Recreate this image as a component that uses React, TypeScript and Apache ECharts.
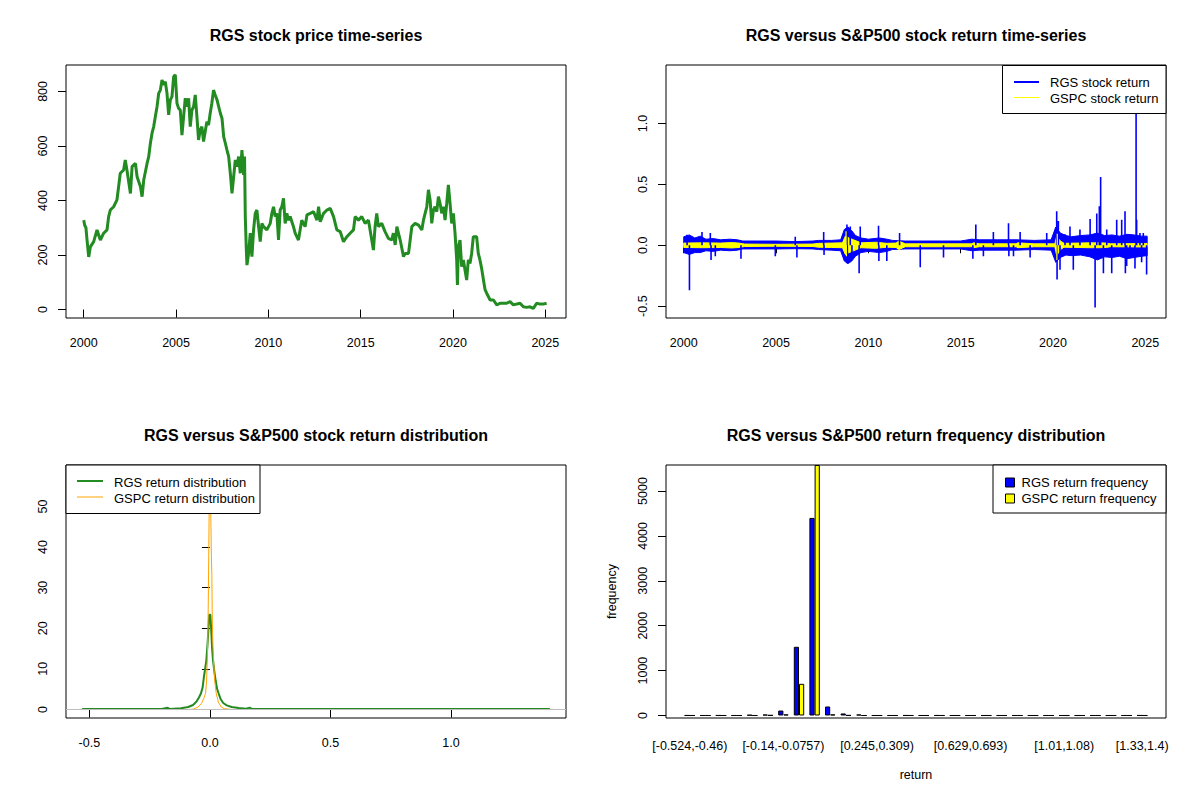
import { useEffect, useRef } from 'react';
import * as echarts from 'echarts';

const FONT = '"Liberation Sans", Arial, sans-serif';

// ---- panel 1: RGS price ----
const priceYears = [
  2000.0, 2000.05, 2000.12, 2000.18, 2000.27, 2000.36, 2000.54, 2000.72, 2000.9, 2001.08,
  2001.26, 2001.35, 2001.44, 2001.62, 2001.8, 2001.98, 2002.16, 2002.25, 2002.34, 2002.53,
  2002.62, 2002.8, 2002.89, 2003.07, 2003.16, 2003.25, 2003.43, 2003.52, 2003.61, 2003.7,
  2003.79, 2003.88, 2003.97, 2004.06, 2004.15, 2004.24, 2004.33, 2004.42, 2004.51, 2004.6,
  2004.69, 2004.78, 2004.87, 2004.96, 2005.05, 2005.14, 2005.23, 2005.32, 2005.41, 2005.5,
  2005.59, 2005.68, 2005.77, 2005.86, 2005.95, 2006.04, 2006.13, 2006.22, 2006.31, 2006.4,
  2006.49, 2006.58, 2006.67, 2006.76, 2006.85, 2006.94, 2007.03, 2007.12, 2007.22, 2007.31,
  2007.4, 2007.49, 2007.58, 2007.67, 2007.76, 2007.85, 2007.94, 2008.03, 2008.12, 2008.21,
  2008.3, 2008.39, 2008.48, 2008.57, 2008.66, 2008.71, 2008.75, 2008.8, 2008.84, 2008.93,
  2009.02, 2009.11, 2009.2, 2009.29, 2009.38, 2009.47, 2009.56, 2009.65, 2009.74, 2009.92,
  2010.1, 2010.19, 2010.28, 2010.37, 2010.46, 2010.55, 2010.64, 2010.73, 2010.82, 2010.91,
  2011.0, 2011.09, 2011.18, 2011.36, 2011.45, 2011.63, 2011.72, 2011.81, 2011.99, 2012.09,
  2012.27, 2012.45, 2012.63, 2012.72, 2012.81, 2012.99, 2013.17, 2013.35, 2013.53, 2013.71,
  2013.89, 2014.07, 2014.25, 2014.43, 2014.61, 2014.7, 2014.88, 2015.06, 2015.24, 2015.42,
  2015.6, 2015.69, 2015.78, 2015.87, 2015.96, 2016.14, 2016.32, 2016.5, 2016.68, 2016.77,
  2016.87, 2016.96, 2017.14, 2017.32, 2017.41, 2017.59, 2017.68, 2017.77, 2017.95, 2018.13,
  2018.31, 2018.4, 2018.49, 2018.58, 2018.67, 2018.76, 2018.85, 2018.94, 2019.03, 2019.12,
  2019.21, 2019.3, 2019.39, 2019.48, 2019.57, 2019.66, 2019.75, 2019.84, 2019.93, 2020.02,
  2020.11, 2020.2, 2020.24, 2020.29, 2020.38, 2020.47, 2020.56, 2020.65, 2020.74, 2020.83,
  2020.92, 2021.01, 2021.1, 2021.19, 2021.28, 2021.37, 2021.46, 2021.55, 2021.65, 2021.74,
  2021.83, 2021.92, 2022.01, 2022.19, 2022.37, 2022.55, 2022.91, 2023.09, 2023.27, 2023.63,
  2023.81, 2023.99, 2024.17, 2024.35, 2024.53, 2024.71, 2024.89, 2025.07,
];
const priceValues = [
  328, 310, 300, 255, 193, 230, 249, 292, 255, 280,
  292, 341, 365, 377, 402, 500, 512, 549, 512, 426,
  524, 536, 487, 451, 414, 475, 536, 561, 610, 647,
  671, 708, 744, 793, 805, 842, 824, 836, 793, 714,
  769, 781, 854, 861, 757, 738, 732, 640, 708, 775,
  744, 775, 671, 732, 744, 787, 708, 622, 659, 671,
  616, 653, 689, 677, 720, 757, 805, 787, 769, 744,
  720, 701, 634, 610, 585, 561, 500, 426, 487, 549,
  524, 561, 500, 585, 494, 561, 341, 231, 163, 206,
  280, 194, 292, 353, 365, 304, 249, 316, 304, 292,
  316, 353, 377, 341, 353, 255, 365, 377, 408, 316,
  353, 328, 341, 304, 280, 255, 292, 328, 304, 347,
  353, 359, 328, 377, 322, 353, 365, 371, 341, 292,
  286, 249, 267, 280, 292, 341, 328, 341, 316, 328,
  255, 218, 304, 353, 304, 316, 286, 261, 255, 280,
  237, 304, 255, 194, 206, 206, 255, 304, 316, 310,
  292, 328, 353, 377, 439, 402, 316, 365, 377, 359,
  414, 389, 353, 377, 328, 389, 457, 389, 316, 353,
  280, 182, 90, 231, 255, 157, 182, 145, 108, 182,
  169, 206, 267, 267, 267, 206, 182, 151, 108, 72,
  59, 47, 35, 35, 17, 23, 23, 29, 17, 23,
  10, 8, 10, 4, 23, 20, 20, 23,
];
const yearTicks = [2000, 2005, 2010, 2015, 2020, 2025];
const priceTicks = [0, 200, 400, 600, 800];

// ---- panel 2: daily returns (dense band envelope + isolated spikes) ----
const rgsBandYears = [
  2000.0, 2000.3, 2000.6, 2000.9, 2001.2, 2001.6, 2002.0, 2002.5, 2002.9, 2003.2,
  2004.0, 2005.0, 2006.0, 2007.0, 2007.3, 2008.0, 2008.5, 2008.7, 2008.9, 2009.1,
  2009.3, 2009.6, 2010.0, 2010.6, 2011.0, 2011.3, 2012.0, 2013.0, 2014.0, 2015.0,
  2015.6, 2016.0, 2017.0, 2018.0, 2019.0, 2019.9, 2020.15, 2020.4, 2020.7, 2021.0,
  2021.5, 2022.0, 2022.4, 2022.8, 2023.2, 2023.6, 2024.0, 2024.4, 2024.8, 2025.1,
];
const rgsBandTop = [
  0.07, 0.085, 0.06, 0.075, 0.05, 0.055, 0.045, 0.05, 0.045, 0.035,
  0.035, 0.035, 0.03, 0.035, 0.04, 0.04, 0.045, 0.13, 0.15, 0.12,
  0.08, 0.06, 0.05, 0.06, 0.05, 0.04, 0.035, 0.035, 0.035, 0.035,
  0.05, 0.045, 0.045, 0.045, 0.04, 0.045, 0.15, 0.1, 0.08, 0.07,
  0.08, 0.085, 0.1, 0.08, 0.085, 0.075, 0.09, 0.085, 0.075, 0.075,
];
const rgsBandBottom = [
  -0.06, -0.075, -0.06, -0.06, -0.045, -0.05, -0.04, -0.045, -0.04, -0.03,
  -0.03, -0.03, -0.028, -0.03, -0.035, -0.04, -0.045, -0.13, -0.15, -0.13,
  -0.09, -0.06, -0.05, -0.06, -0.05, -0.035, -0.03, -0.03, -0.03, -0.03,
  -0.045, -0.04, -0.04, -0.04, -0.035, -0.04, -0.14, -0.1, -0.08, -0.085,
  -0.08, -0.095, -0.12, -0.095, -0.1, -0.09, -0.11, -0.1, -0.09, -0.085,
];
const rgsSpikeYears = [
  2000.18, 2000.31, 2000.99, 2001.44, 2001.48, 2001.71, 2003.1, 2004.96, 2006.04, 2006.13,
  2007.58, 2007.6, 2008.84, 2008.86, 2009.02, 2009.11, 2009.5, 2009.56, 2010.55, 2010.57,
  2011.0, 2011.69, 2012.81, 2014.07, 2015.66, 2015.82, 2016.23, 2016.77, 2017.59, 2017.61,
  2017.86, 2018.22, 2018.76, 2019.66, 2020.2, 2020.22, 2020.29, 2020.38, 2020.65, 2020.92,
  2021.1, 2021.46, 2022.01, 2022.28, 2022.37, 2022.51, 2022.58, 2022.73, 2022.91, 2023.18,
  2023.45, 2023.72, 2023.9, 2023.92, 2023.99, 2024.17, 2024.44, 2024.5, 2024.53, 2024.71,
  2024.8, 2024.89, 2025.07,
];
const rgsSpikeValues = [
  0.087, -0.37, 0.11, 0.1, -0.12, -0.09, -0.11, -0.09, 0.07, -0.1,
  0.11, -0.08, 0.17, -0.15, 0.155, -0.11, -0.23, 0.155, 0.16, -0.13,
  -0.13, 0.1, -0.18, -0.1, -0.11, 0.17, -0.09, 0.11, 0.18, -0.09,
  -0.09, 0.11, -0.1, 0.1, 0.28, -0.28, 0.2, -0.2, 0.09, 0.155,
  -0.2, 0.13, 0.215, -0.51, 0.26, 0.32, 0.56, -0.23, 0.13, -0.23,
  0.21, 0.21, 0.28, -0.23, -0.17, -0.09, -0.19, 1.4, 0.21, 0.1,
  -0.14, 0.1, -0.24,
];
const gspcBandYears = [
  2000.0, 2001.0, 2002.0, 2002.6, 2003.0, 2003.3, 2005.0, 2007.0, 2007.3, 2008.0,
  2008.6, 2008.75, 2008.95, 2009.2, 2009.6, 2010.4, 2011.0, 2011.5, 2011.65, 2012.0,
  2015.6, 2015.7, 2016.0, 2018.0, 2018.1, 2019.0, 2020.1, 2020.2, 2020.4, 2020.6,
  2022.0, 2022.5, 2022.9, 2023.1, 2025.1,
];
const gspcBandTop = [
  0.018, 0.02, 0.018, 0.022, 0.018, 0.01, 0.008, 0.01, 0.016, 0.018,
  0.02, 0.075, 0.06, 0.045, 0.02, 0.025, 0.016, 0.018, 0.035, 0.012,
  0.012, 0.02, 0.012, 0.012, 0.02, 0.012, 0.012, 0.075, 0.035, 0.016,
  0.02, 0.02, 0.018, 0.012, 0.014,
];
const gspcBandBottom = [
  -0.018, -0.02, -0.018, -0.022, -0.018, -0.01, -0.008, -0.01, -0.016, -0.018,
  -0.02, -0.075, -0.06, -0.045, -0.02, -0.025, -0.016, -0.018, -0.035, -0.012,
  -0.012, -0.02, -0.012, -0.012, -0.02, -0.012, -0.012, -0.085, -0.035, -0.016,
  -0.02, -0.02, -0.018, -0.012, -0.014,
];
const gspcSpikeYears = [2008.79, 2008.81, 2020.21, 2020.23];
const gspcSpikeValues = [0.116, -0.09, -0.12, 0.094];
const returnTicks = [-0.5, 0, 0.5, 1.0];

// ---- panel 3: density ----
const rgsDensX = [
  -0.53, -0.2, -0.175, -0.165, -0.12, -0.09, -0.07, -0.055, -0.045, -0.037,
  -0.03, -0.025, -0.02, -0.015, -0.01, -0.006, -0.003, 0.002, 0.005, 0.009,
  0.013, 0.018, 0.024, 0.03, 0.037, 0.045, 0.055, 0.07, 0.09, 0.12,
  0.15, 0.165, 0.175, 1.41,
];
const rgsDensY = [
  0.1, 0.1, 0.4, 0.1, 0.3, 0.6, 1.1, 2.0, 3.0, 4.0,
  5.5, 8.0, 10, 12, 16, 20, 23.3, 23.3, 20, 15,
  12, 9.5, 7.0, 5.0, 3.8, 2.5, 1.6, 1.0, 0.6, 0.35,
  0.2, 0.45, 0.1, 0.1,
];
const gspcDensX = [
  -0.098, -0.07, -0.049, -0.035, -0.025, -0.018, -0.014, -0.011, -0.0085, -0.007,
  -0.005, -0.003, 0, 0.002, 0.004, 0.006, 0.008, 0.0095, 0.011, 0.015,
  0.02, 0.026, 0.035, 0.047, 0.06, 0.089,
];
const gspcDensY = [
  0, 0.05, 0.6, 1.5, 2.8, 4.0, 7, 12, 18.8, 25.3,
  38, 50, 58, 55, 46, 38, 33, 24, 18.8, 12,
  7, 4, 1.8, 0.6, 0.2, 0,
];
const densTicks = [0, 10, 20, 30, 40, 50];

// ---- panel 4: frequency histogram ----
const binLabels = [
  '[-0.524,-0.46)', '[-0.46,-0.396)', '[-0.396,-0.332)', '[-0.332,-0.268)', '[-0.268,-0.204)',
  '[-0.204,-0.14)', '[-0.14,-0.0757)', '[-0.0757,-0.0116)', '[-0.0116,0.0525)', '[0.0525,0.117)',
  '[0.117,0.181)', '[0.181,0.245)', '[0.245,0.309)', '[0.309,0.373)', '[0.373,0.437)',
  '[0.437,0.501)', '[0.501,0.565)', '[0.565,0.629)', '[0.629,0.693)', '[0.693,0.757)',
  '[0.757,0.821)', '[0.821,0.885)', '[0.885,0.95)', '[0.95,1.01)', '[1.01,1.08)',
  '[1.08,1.14)', '[1.14,1.21)', '[1.21,1.27)', '[1.27,1.33)', '[1.33,1.4)',
];
const shownBins = [0, 6, 12, 18, 24, 29];
const rgsFreq = [
  1, 0, 1, 0, 12, 20, 110, 1530, 4400, 200,
  45, 22, 0, 0, 1, 0, 1, 0, 0, 0,
  0, 0, 0, 0, 0, 0, 0, 0, 0, 1,
];
const gspcFreq = [
  0, 0, 0, 0, 0, 5, 25, 705, 5579, 25,
  3, 0, 0, 0, 0, 0, 0, 0, 0, 0,
  0, 0, 0, 0, 0, 0, 0, 0, 0, 0,
];
const freqTicks = [0, 1000, 2000, 3000, 4000, 5000];

const zip = (xs: number[], ys: number[]) => xs.map((x, i) => [x, ys[i]]);
// each spike is its own vertical segment from 0, separated by a gap
const spikes = (xs: number[], ys: number[]) =>
  xs.flatMap((x, i) => [[x, 0], [x, ys[i]], [x, '-']]);

const labelStyle = { color: '#000', fontSize: 12.5, fontFamily: FONT };

function valueAxis(gridIndex: number, min: number, max: number, ticks: number[], isY: boolean, fmt?: (v: number) => string) {
  return {
    gridIndex,
    type: 'value',
    min,
    max,
    axisLine: { show: false },
    axisTick: { show: true, inside: false, length: 8, lineStyle: { color: '#000', width: 1 }, customValues: ticks },
    axisLabel: {
      ...labelStyle,
      margin: isY ? 17 : 18,
      rotate: isY ? 90 : 0,
      customValues: ticks,
      formatter: fmt ?? ((v: number) => String(v)),
    },
    splitLine: { show: false },
  };
}

const oneDecimal = (v: number) => v.toFixed(1);

// filled band between two envelopes, drawn through the axis scales
function bandSeries(years: number[], top: number[], bottom: number[], color: string) {
  return {
    type: 'custom',
    xAxisIndex: 1,
    yAxisIndex: 1,
    data: [[years[0], 0]],
    silent: true,
    renderItem: (_params: any, api: any) => {
      const upper = years.map((t, i) => api.coord([t, top[i]]));
      const lower = years.map((t, i) => api.coord([t, bottom[i]])).reverse();
      return {
        type: 'polygon',
        shape: { points: [...upper, ...lower] },
        style: { fill: color, stroke: color, lineWidth: 1 },
      };
    },
  };
}

function legendBox(x: number, y: number, w: number, h: number) {
  return {
    type: 'rect',
    z: 100,
    shape: { x, y, width: w, height: h },
    style: { fill: '#fff', stroke: '#000', lineWidth: 1 },
  };
}
function legendText(x: number, y: number, text: string) {
  return {
    type: 'text',
    z: 101,
    x,
    y,
    style: { text, fill: '#000', fontSize: 13, fontFamily: FONT, textAlign: 'left', textVerticalAlign: 'middle' },
  };
}
function legendLine(x1: number, x2: number, y: number, color: string, width: number) {
  return {
    type: 'line',
    z: 101,
    shape: { x1, y1: y, x2, y2: y },
    style: { stroke: color, lineWidth: width },
  };
}
function legendSquare(x: number, y: number, color: string) {
  return {
    type: 'rect',
    z: 101,
    shape: { x, y, width: 9, height: 9 },
    style: { fill: color, stroke: '#000', lineWidth: 1 },
  };
}
function title(x: number, y: number, text: string) {
  return {
    type: 'text',
    z: 101,
    x,
    y,
    style: {
      text,
      fill: '#000',
      fontSize: 16,
      fontWeight: 'bold',
      fontFamily: FONT,
      textAlign: 'center',
      textVerticalAlign: 'middle',
    },
  };
}

export default function App() {
  const chartRef = useRef<HTMLDivElement>(null);

  useEffect(() => {
    document.body.style.margin = '0';
    if (!chartRef.current) return;
    const chart = echarts.init(chartRef.current, undefined, { renderer: 'svg' });

    const gridBox = { show: true, borderColor: '#000', borderWidth: 1, backgroundColor: 'transparent' };

    const option: any = {
      animation: false,
      backgroundColor: '#fff',
      grid: [
        { left: 66, top: 65, width: 500, height: 253, ...gridBox },
        { left: 666, top: 65, width: 500, height: 253, ...gridBox },
        { left: 66, top: 465, width: 500, height: 253, ...gridBox },
        { left: 682, top: 465, width: 468, height: 253, show: false },
      ],
      xAxis: [
        valueAxis(0, 1999.04, 2026.12, yearTicks, false),
        valueAxis(1, 1999.04, 2026.12, yearTicks, false),
        valueAxis(2, -0.597, 1.477, returnTicks, false, oneDecimal),
        {
          gridIndex: 3,
          type: 'category',
          data: binLabels,
          axisLine: { show: false },
          axisTick: { show: false },
          axisLabel: {
            ...labelStyle,
            margin: 21,
            interval: (index: number) => shownBins.includes(index),
          },
          name: 'return',
          nameLocation: 'middle',
          nameGap: 50,
          nameTextStyle: { ...labelStyle },
        },
      ],
      yAxis: [
        valueAxis(0, -31, 897, priceTicks, true),
        valueAxis(1, -0.597, 1.48, returnTicks, true, oneDecimal),
        valueAxis(2, -2.1, 60.2, densTicks, true),
        {
          ...valueAxis(3, -56, 5579, freqTicks, true),
          offset: 16,
          name: 'frequency',
          nameLocation: 'middle',
          nameGap: 48,
          nameTextStyle: { ...labelStyle },
        },
      ],
      series: [
        {
          type: 'line',
          xAxisIndex: 0,
          yAxisIndex: 0,
          data: zip(priceYears, priceValues),
          symbol: 'none',
          lineStyle: { color: '#228B22', width: 3 },
        },
        bandSeries(rgsBandYears, rgsBandTop, rgsBandBottom, '#0000FF'),
        {
          type: 'line',
          xAxisIndex: 1,
          yAxisIndex: 1,
          data: spikes(rgsSpikeYears, rgsSpikeValues),
          connectNulls: false,
          symbol: 'none',
          lineStyle: { color: '#0000FF', width: 1.6 },
        },
        bandSeries(gspcBandYears, gspcBandTop, gspcBandBottom, '#FFFF00'),
        {
          type: 'line',
          xAxisIndex: 1,
          yAxisIndex: 1,
          data: spikes(gspcSpikeYears, gspcSpikeValues),
          connectNulls: false,
          symbol: 'none',
          lineStyle: { color: '#FFFF00', width: 1.2 },
        },
        {
          type: 'line',
          xAxisIndex: 2,
          yAxisIndex: 2,
          data: zip(rgsDensX, rgsDensY),
          symbol: 'none',
          lineStyle: { color: '#228B22', width: 2 },
          markLine: {
            silent: true,
            symbol: 'none',
            label: { show: false },
            lineStyle: { color: '#BEBEBE', type: 'solid', width: 1 },
            data: [{ yAxis: 0 }],
          },
        },
        {
          type: 'line',
          xAxisIndex: 2,
          yAxisIndex: 2,
          data: zip(gspcDensX, gspcDensY),
          symbol: 'none',
          lineStyle: { color: '#FFA500', width: 1 },
        },
        {
          type: 'bar',
          xAxisIndex: 3,
          yAxisIndex: 3,
          data: rgsFreq,
          barWidth: 5.2,
          barGap: '0%',
          itemStyle: { color: '#0000FF', borderColor: '#000', borderWidth: 1 },
        },
        {
          type: 'bar',
          xAxisIndex: 3,
          yAxisIndex: 3,
          data: gspcFreq,
          barWidth: 5.2,
          barGap: '0%',
          itemStyle: { color: '#FFFF00', borderColor: '#000', borderWidth: 1 },
        },
      ],
      graphic: [
        title(316, 35, 'RGS stock price time-series'),
        title(916, 35, 'RGS versus S&P500 stock return time-series'),
        title(316, 435, 'RGS versus S&P500 stock return distribution'),
        title(916, 435, 'RGS versus S&P500 return frequency distribution'),
        {
          type: 'rect',
          z: 100,
          shape: { x: 666, y: 465, width: 500, height: 253 },
          style: { fill: 'none', stroke: '#000', lineWidth: 1 },
        },
        legendBox(1002.5, 65.5, 163.5, 48),
        legendLine(1014, 1039, 82, '#0000FF', 2),
        legendLine(1014, 1039, 97.5, '#FFFF00', 1),
        legendText(1050, 82, 'RGS stock return'),
        legendText(1050, 98, 'GSPC stock return'),
        legendBox(66, 465, 194, 48.5),
        legendLine(77, 103, 481, '#228B22', 2),
        legendLine(77, 103, 497, '#FFA500', 1),
        legendText(114, 482.5, 'RGS return distribution'),
        legendText(114, 498.5, 'GSPC return distribution'),
        legendBox(993, 465, 173, 48),
        legendSquare(1005.5, 478, '#0000FF'),
        legendSquare(1005.5, 494, '#FFFF00'),
        legendText(1021.5, 482.5, 'RGS return frequency'),
        legendText(1021.5, 498.5, 'GSPC return frequency'),
      ],
    };

    chart.setOption(option);

    return () => {
      chart.dispose();
    };
  }, []);

  return <div ref={chartRef} style={{ width: '1200px', height: '800px' }} />;
}
